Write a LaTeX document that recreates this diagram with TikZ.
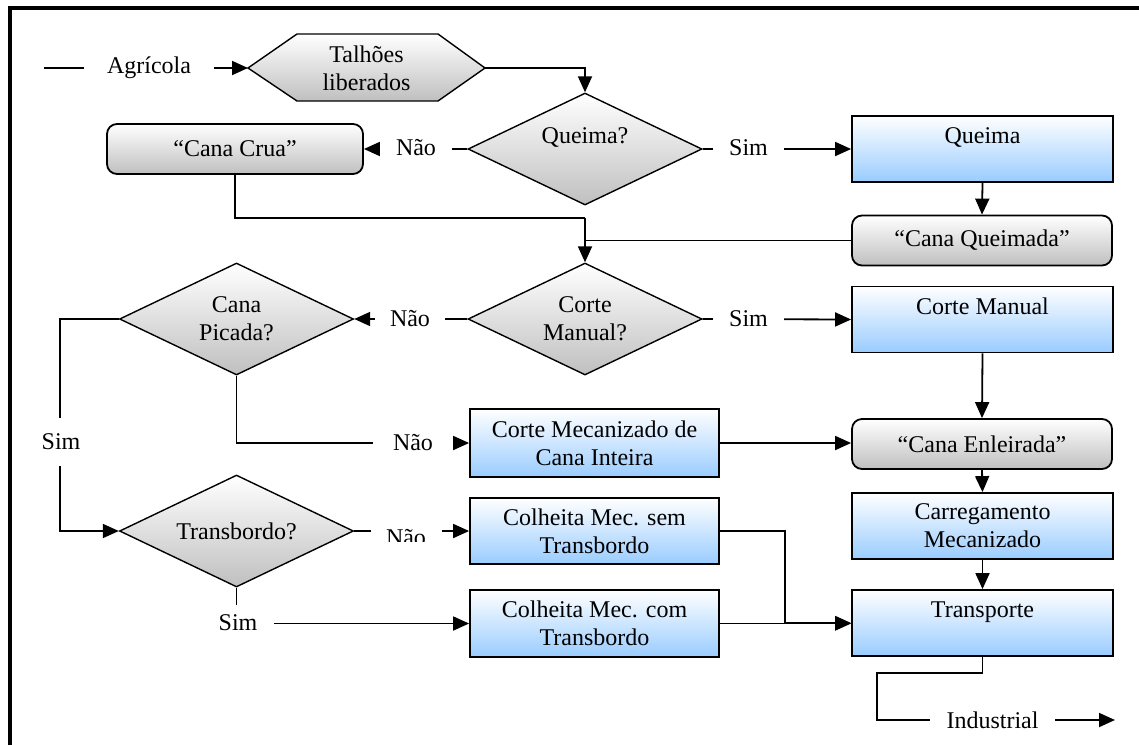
\documentclass[tikz,border=0pt]{standalone}
\usepackage{fontspec}
\setmainfont{Liberation Serif}
\usetikzlibrary{shapes.geometric,arrows.meta}
\definecolor{boxblue}{RGB}{153,204,255}

\begin{document}
\begin{tikzpicture}[x=0.5pt, y=-0.5pt, font=\fontsize{12}{14}\selectfont,
    conn/.style={line width=0.9pt},
    arr/.style={line width=0.9pt, -{Triangle[length=8pt,width=7pt]}},
    greybox/.style={draw, line width=0.9pt, rounded corners=5pt, top color=white, bottom color=gray!50, inner sep=0pt, minimum height=25pt},
    bluebox/.style={draw, line width=0.9pt, top color=white, bottom color=boxblue, align=center, inner sep=0pt},
    decision/.style={diamond, draw, line width=0.7pt, top color=white, bottom color=gray!50, align=center, inner sep=0pt, aspect=2, minimum width=117pt, minimum height=56pt},
    lbl/.style={fill=white, inner sep=0pt, minimum height=12pt}]

    % Fix the size of the page
    \useasboundingbox (0,0) rectangle (1139,745);

    % Draw the frame round the chart
    \draw[line width=2pt] (10,745) -- (10,8) -- (1139,8);

    % Define the tips of the hexagon and the free ends
    \coordinate (hexW) at (248,68);
    \coordinate (hexE) at (485,68);
    \coordinate (agrStart) at (44,68);
    \coordinate (joinQ) at (585,218);
    \coordinate (indBend) at (877,720);
    \coordinate (indEnd) at (1115,720);

    % Draw the hexagon for the released plots
    \draw[line width=0.7pt, top color=white, bottom color=gray!50] (hexW) -- (297,34) -- (438,34) -- (hexE) -- (438,101) -- (297,101) -- cycle;
    \node[align=center] (talhoes) at (366.5,68) {Talhões\\liberados};

    % Draw the decisions
    \node[decision] (queimaq) at (585,149) {Queima?\\[-1pt]\mbox{}};
    \node[decision] (corteq) at (585,319) {Corte\\Manual?};
    \node[decision] (picada) at (236.5,319) {Cana\\Picada?};
    \node[decision] (transb) at (236.5,531) {Transbordo?};

    % Draw the grey boxes
    \node[greybox, minimum width=128pt] (crua) at (235,149) {“Cana Crua”};
    \node[greybox, minimum width=130pt] (queimada) at (982,240.5) {“Cana Queimada”};
    \node[greybox, minimum width=130pt] (enleirada) at (982,444) {“Cana Enleirada”};

    % Draw the blue boxes on the right
    \node[bluebox, minimum width=130.5pt, minimum height=33pt] (queima) at (982.5,149) {Queima\\[-1pt]\mbox{}};
    \node[bluebox, minimum width=130.5pt, minimum height=33pt] (corteman) at (982.5,319.5) {Corte Manual\\[-1pt]\mbox{}};
    \node[bluebox, minimum width=130.5pt, minimum height=33pt] (carreg) at (982.5,526) {Carregamento\\Mecanizado};
    \node[bluebox, minimum width=130.5pt, minimum height=33pt] (transporte) at (982.5,623) {Transporte\\[-1pt]\mbox{}};

    % Draw the blue boxes in the middle
    \node[bluebox, minimum width=124.5pt, minimum height=34pt] (inteira) at (594.5,443) {Corte Mecanizado de\\Cana Inteira};
    \node[bluebox, minimum width=124.5pt, minimum height=33pt] (sem) at (594.5,531) {Colheita Mec. sem\\Transbordo};
    \node[bluebox, minimum width=124.5pt, minimum height=33.5pt] (com) at (594.5,623.5) {Colheita Mec. com\\Transbordo};

    % Draw the connectors
    \draw[arr] (agrStart) -- (hexW);
    \draw[arr] (hexE) -| (queimaq.north);
    \draw[arr] (queimaq.west) -- (crua.east);
    \draw[arr] (queimaq.east) -- (queima.west);
    \draw[arr] (queima.south) -- (queimada.north);
    \draw[conn] (crua.south) |- (joinQ);
    \draw[conn] (queimada.west) -- (queimada.west -| joinQ);
    \draw[arr] (joinQ) -- (corteq.north);
    \draw[arr] (corteq.west) -- (picada.east);
    \draw[arr] (corteq.east) -- (corteman.west);
    \draw[arr] (corteman.south) -- (enleirada.north);
    \draw[arr] (picada.south) |- (inteira.west);
    \draw[arr] (picada.west) -- ++(-59,0) |- (transb.west);
    \draw[arr] (transb.east) -- (sem.west);
    \draw[arr] (transb.south) |- (com.west);
    \draw[arr] (inteira.east) -- (inteira.east -| enleirada.west);
    \draw[arr] (enleirada.south) -- (carreg.north);
    \draw[arr] (carreg.south) -- (transporte.north);
    \draw[arr] (sem.east) -- ++(65,0) |- (transporte.west);
    \draw[arr] (com.east) -- (com.east -| transporte.west);
    \draw[arr] (transporte.south) -- ++(0,16) -| (indBend) -- (indEnd);

    % Put the labels over the connectors
    \node[lbl, minimum width=65pt] (agr) at (149,68) {Agrícola};
    \node[lbl, minimum width=36pt] (naoA) at (416,148) {Não};
    \node[lbl, minimum width=35.5pt] (simA) at (748.5,148) {Sim};
    \node[lbl, minimum width=35pt] (naoB) at (410,319) {Não};
    \node[lbl, minimum width=35.5pt] (simB) at (748.5,319) {Sim};
    \node[lbl, minimum width=40pt] (naoC) at (413,443) {Não};
    \node[lbl, minimum width=20pt, minimum height=24pt] (simC) at (61,442) {Sim};
    \node[lbl, minimum width=36pt, minimum height=18pt] (simD) at (238,623) {Sim};
    \node[lbl, minimum width=62.5pt] (ind) at (992.5,720) {Industrial};
    \begin{scope}
        \clip (370,515) rectangle (445,541);
        \node[lbl, minimum width=35.5pt] (naoD) at (406,538) {Não};
    \end{scope}

\end{tikzpicture}
\end{document}
